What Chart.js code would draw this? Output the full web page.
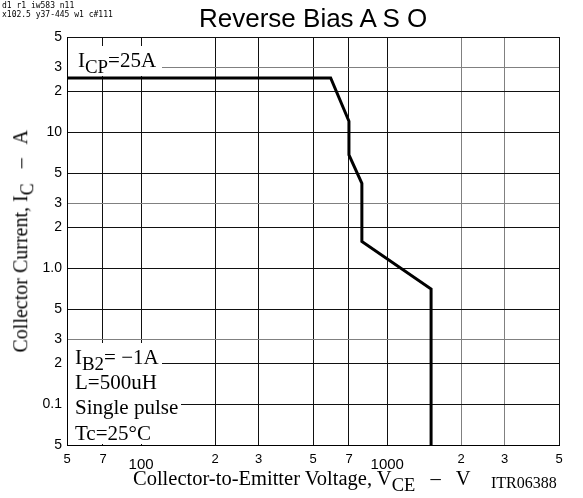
<!DOCTYPE html>
<html>
<head>
<meta charset="utf-8">
<script src="https://cdn.jsdelivr.net/npm/chart.js@4/dist/chart.umd.min.js"></script>
<style>
  body { margin: 0; background: #fff; }
  #wrap { position: relative; width: 583px; height: 498px; overflow: hidden; }
  canvas { display: block; }
  .lbl { position: absolute; white-space: pre; color: #000; }
  .box { position: absolute; white-space: pre; color: #000; background: #fff; }
  .sub { font-size: 0.9em; position: relative; top: 0.31em; }
  #diag { position: absolute; left: 2px; top: 1px; font: 8px "DejaVu Sans Mono", monospace; color: #000; white-space: pre; }
</style>
</head>
<body>
<div id="wrap"><canvas id="rbso" width="583" height="498"></canvas><div id="diag"></div></div>
<script>
// reverse bias ASO curve (VCE in V, IC in A)
const vce = [50, 590, 700, 700, 790, 790, 1510, 1510];
const ic = [25, 25, 12, 6.8, 4.2, 1.57, 0.7, 0.05];

// axis ticks and their printed labels
const xTicks = [50, 70, 100, 200, 300, 500, 700, 1000, 2000, 3000, 5000];
const xTickLabels = ['5', '7', '100', '2', '3', '5', '7', '1000', '2', '3', '5'];
const yTicks = [0.05, 0.1, 0.2, 0.3, 0.5, 1, 2, 3, 5, 10, 20, 30, 50];
const yTickLabels = ['5', '0.1', '2', '3', '5', '1.0', '2', '3', '5', '10', '2', '3', '5'];

// lighter grid lines in the original
const grayLines = [0.3, 3, 30, 2000, 3000];

// conditions in the lower left corner
const notes = ['I<span class="sub">B2</span>= \u22121A', 'L=500uH', 'Single pulse', 'Tc=25\u00B0C'];

const SANS = '"Liberation Sans", Arial, sans-serif';
const SERIF = '"Liberation Serif", "Times New Roman", serif';
const SANS_K = 0.8465, SERIF_K = 0.8375;

const gridColor = (ctx) => grayLines.includes(ctx.tick.value) ? '#808080' : '#111';

let draws = 0;
const drawCount = { id: 'drawCount', beforeDraw() { draws++; } };

const chart = new Chart(document.getElementById('rbso'), {
  type: 'scatter',
  data: {
    datasets: [{
      data: vce.map((v, i) => ({ x: v, y: ic[i] })),
      showLine: true,
      borderColor: '#000',
      borderWidth: 3,
      pointRadius: 0,
      tension: 0
    }]
  },
  options: {
    responsive: false,
    animation: false,
    layout: { padding: { left: 0, right: 24, top: 37, bottom: 0 } },
    plugins: { legend: { display: false }, tooltip: { enabled: false } },
    scales: {
      x: {
        type: 'logarithmic',
        min: 50,
        max: 5000,
        afterBuildTicks: (s) => { s.ticks = xTicks.map(v => ({ value: v })); },
        afterFit: (s) => { s.height = 53; },
        ticks: { display: false },
        grid: { drawTicks: false, color: gridColor, lineWidth: 1 },
        border: { color: '#000', width: 1 }
      },
      y: {
        type: 'logarithmic',
        min: 0.05,
        max: 50,
        afterBuildTicks: (s) => { s.ticks = yTicks.map(v => ({ value: v })); },
        afterFit: (s) => { s.width = 67; },
        ticks: {
          padding: 5,
          color: '#000',
          font: { family: SANS, size: 14 },
          autoSkip: false,
          callback: (v) => {
            const i = yTicks.indexOf(v);
            return i >= 0 ? yTickLabels[i] : '';
          }
        },
        grid: { drawTicks: false, color: gridColor },
        border: { color: '#000', width: 1 }
      }
    }
  },
  plugins: [drawCount]
});

const wrap = document.getElementById('wrap');
const area = chart.chartArea;
const xs = chart.scales.x;

function label(html, x, baseline, size, family, align) {
  const d = document.createElement('div');
  d.className = 'lbl';
  d.style.font = size + 'px ' + family;
  d.style.lineHeight = size + 'px';
  d.style.top = (baseline - (family === SANS ? SANS_K : SERIF_K) * size) + 'px';
  d.innerHTML = html;
  wrap.appendChild(d);
  const w = d.offsetWidth;
  d.style.left = (align === 'center' ? x - w / 2 : align === 'right' ? x - w : x) + 'px';
  return d;
}

// text on a white patch that hides the grid behind it
function box(html, top, height, padL, padR, baseline, size) {
  const d = document.createElement('div');
  d.className = 'box';
  d.style.left = (area.left + 1) + 'px';
  d.style.top = top + 'px';
  d.style.height = height + 'px';
  d.style.lineHeight = height + 'px';
  d.style.padding = '0 ' + padR + 'px 0 ' + padL + 'px';
  d.style.font = size + 'px ' + SERIF;
  d.style.lineHeight = height + 'px';
  const natural = top + height / 2 + (SERIF_K - 0.5) * size;
  d.innerHTML = '<span style="position:relative;top:' + (baseline - natural) + 'px">' + html + '</span>';
  wrap.appendChild(d);
}

box('I<span class="sub">CP</span>=25A', 46, 30, 10, 6, 67, 21);
const tops = [343, 370, 395, 420, 444];
const bases = [365, 390, 415, 440];
notes.forEach((n, i) => box(n, tops[i], tops[i + 1] - tops[i], 7, 3, bases[i], 21));

label('Reverse Bias A S O', (area.left + area.right) / 2, 27, 26, SANS, 'center');

xTicks.forEach((v, i) => {
  const big = xTickLabels[i].length > 2;
  label(xTickLabels[i], xs.getPixelForValue(v), big ? 469 : 463, big ? 15 : 13, SANS, 'center');
});

label('Collector-to-Emitter Voltage, V<span class="sub">CE</span>   \u2013   V', 133, 485, 20.5, SERIF, 'left');
label('ITR06388', 557, 488, 16, SERIF, 'right');

const yt = label('Collector Current, I<span class="sub">C</span>   \u2013   A', 0, 0, 20, SERIF, 'left');
const yw = yt.offsetWidth;
yt.style.left = '0px';
yt.style.top = '0px';
yt.style.transformOrigin = '0 0';
yt.style.transform = 'translate(' + (27 - SERIF_K * 20) + 'px,' + ((area.top + area.bottom) / 2 + yw / 2) + 'px) rotate(-90deg)';

// temporary check of the vertical grid
function diag() {
  const it = (xs._gridLineItems || [])[1] || {};
  document.getElementById('diag').textContent =
    'd' + draws + ' r' + chart.currentDevicePixelRatio + ' iw' + innerWidth + ' n' + (xs._gridLineItems || []).length +
    '\nx' + it.x1 + ' y' + it.y1 + '-' + it.y2 + ' w' + it.width + ' c' + it.color;
}
diag();
setTimeout(diag, 300);
</script>
</body>
</html>
